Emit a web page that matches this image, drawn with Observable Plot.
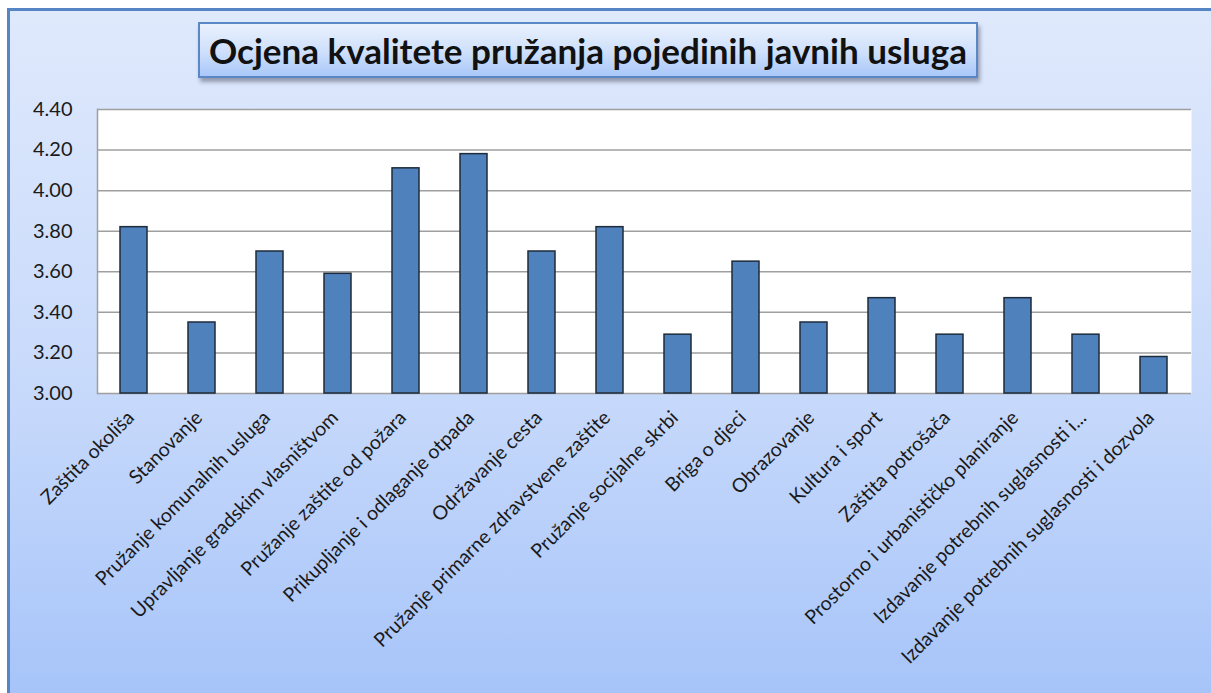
<!DOCTYPE html>
<html>
<head>
<meta charset="utf-8">
<script src="https://cdn.jsdelivr.net/npm/d3@7"></script>
<script src="https://cdn.jsdelivr.net/npm/@observablehq/plot@0.6"></script>
<style>
  html, body { margin: 0; padding: 0; background: #ffffff; }
  #wrap { position: relative; width: 1211px; height: 693px; overflow: hidden; background: #ffffff; }
  #panel { position: absolute; left: 7px; top: 8px; width: 1220px; height: 700px;
    border-left: 3px solid #5585c4; border-top: 3px solid #5585c4;
    background: linear-gradient(to bottom, #dfe9fc 0%, #c7d9fb 55%, #a5c3f9 100%); }
  #title { position: absolute; left: 198px; top: 22px; width: 776px; height: 52px;
    border: 2px solid #5a88c6; box-sizing: content-box;
    background: linear-gradient(to bottom, #eaf1fd 0%, #cddffb 55%, #a9c7f8 100%);
    box-shadow: 2px 4px 4px rgba(60,60,80,0.45);
    font-family: Lato, "Open Sans", sans-serif; font-weight: bold; font-size: 35px;
    color: #111; display: flex; align-items: center; justify-content: center; white-space: nowrap; }
  #chart { position: absolute; left: 0; top: 0; }
</style>
</head>
<body>
<div id="wrap">
  <div id="panel"></div>
  <div id="title">Ocjena kvalitete pružanja pojedinih javnih usluga</div>
  <div id="chart"></div>
</div>
<script>
const categories = [
  "Zaštita okoliša",
  "Stanovanje",
  "Pružanje komunalnih usluga",
  "Upravljanje gradskim vlasništvom",
  "Pružanje zaštite od požara",
  "Prikupljanje i odlaganje otpada",
  "Održavanje cesta",
  "Pružanje primarne zdravstvene zaštite",
  "Pružanje socijalne skrbi",
  "Briga o djeci",
  "Obrazovanje",
  "Kultura i sport",
  "Zaštita potrošača",
  "Prostorno i urbanističko planiranje",
  "Izdavanje potrebnih suglasnosti i...",
  "Izdavanje potrebnih suglasnosti i dozvola"
];
const values = [3.82, 3.35, 3.70, 3.59, 4.11, 4.18, 3.70, 3.82, 3.29, 3.65, 3.35, 3.47, 3.29, 3.47, 3.29, 3.18];
const yTicks = [3.0, 3.2, 3.4, 3.6, 3.8, 4.0, 4.2, 4.4];

const data = categories.map((c, i) => ({category: c, value: values[i], key: i}));

const chart = Plot.plot({
  width: 1211,
  height: 693,
  marginLeft: 97,
  marginRight: 20,
  marginTop: 109,
  marginBottom: 300,
  style: {background: "transparent", fontFamily: "Lato, 'Open Sans', sans-serif", color: "#1a1a1a", overflow: "visible"},
  x: {domain: d3.range(categories.length), paddingInner: 0.6, paddingOuter: 0.3, axis: null},
  y: {domain: [3.0, 4.4], ticks: yTicks, axis: null},
  marks: [
    Plot.frame({fill: "#ffffff", stroke: null}),
    Plot.gridY(yTicks, {stroke: "#9f9f9f", strokeOpacity: 1, strokeWidth: 1.5}),
    Plot.frame({anchor: "left", stroke: "#9f9f9f", strokeWidth: 1.5}),
    Plot.barY(data, {x: "key", y1: 3.0, y2: "value", fill: "#4f81bd", stroke: "#1e2b3b", strokeWidth: 1.5}),
    Plot.axisY(yTicks, {label: null, tickSize: 0, tickPadding: 25, fontSize: 20, tickFormat: d3.format(".2f"), fill: "#1a1a1a"}),
    Plot.axisX(d3.range(categories.length), {
      label: null, tickSize: 0, tickPadding: 21, tickRotate: -45, fontSize: 19.5,
      tickFormat: i => categories[i], fill: "#1a1a1a", dx: -3
    })
  ]
});
document.getElementById("chart").appendChild(chart);
</script>
</body>
</html>
